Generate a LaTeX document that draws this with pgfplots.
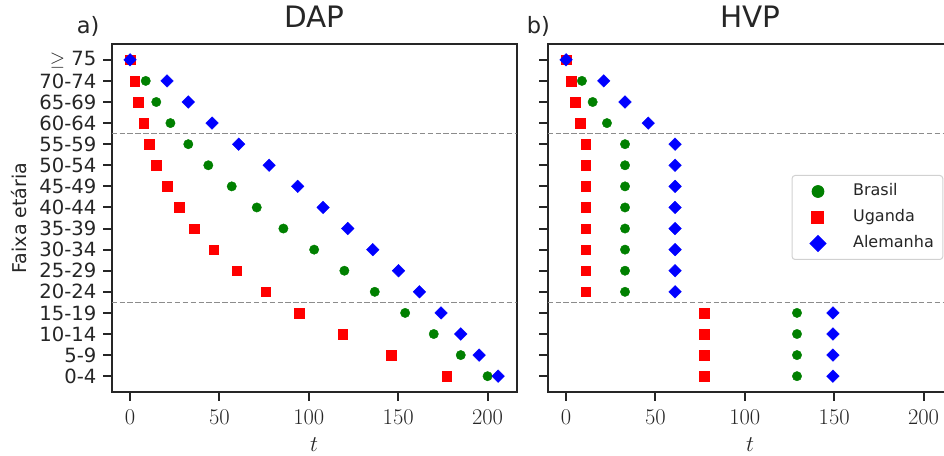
\RequirePackage{fix-cm}
\documentclass[border=0pt]{standalone}
\usepackage{fontspec}
\setmainfont{DejaVu Sans}
\usepackage{pgfplots}
\pgfplotsset{compat=1.18}
\usepackage{pgfplotstable}

\definecolor{spine}{gray}{0.15}
\definecolor{mgreen}{RGB}{0,128,0}
\definecolor{mred}{RGB}{255,0,0}
\definecolor{mblue}{RGB}{0,0,255}
\definecolor{dashgrey}{gray}{0.55}
\definecolor{legedge}{gray}{0.82}

% rows: 0 = 0-4, ..., 14 = 70-74, 15 = >=75
\pgfplotstableread{
row bra uga ale
0  200.0 177.2 205.9
1  185.0 146.1 195.3
2  169.9 119.0 185.0
3  153.9  94.8 174.0
4  136.9  75.9 161.9
5  119.9  59.7 150.2
6  103.0  46.8 135.8
7   85.8  35.8 121.8
8   70.9  27.6 108.0
9   56.9  20.7  93.8
10  43.8  14.5  77.8
11  32.6  10.6  60.8
12  22.6   7.6  45.9
13  14.7   4.7  32.6
14   8.8   2.6  20.7
15   0.0   0.0   0.0
}\dap

\pgfplotstableread{
row bra uga ale
0  129.2 77.2 149.3
1  129.2 77.2 149.3
2  129.2 77.2 149.3
3  129.2 77.2 149.3
4   33.0 11.0  61.0
5   33.0 11.0  61.0
6   33.0 11.0  61.0
7   33.0 11.0  61.0
8   33.0 11.0  61.0
9   33.0 11.0  61.0
10  33.0 11.0  61.0
11  33.0 11.0  61.0
12  22.9  7.8  46.0
13  14.9  5.0  33.0
14   8.9  2.8  21.1
15   0.0  0.0   0.0
}\hvp

\pgfplotsset{
  panel/.style={
    scale only axis, width=405.1pt, height=348pt,
    xmin=-10.3, xmax=216.3, ymin=-0.75, ymax=15.75,
    xtick={0,50,100,150,200}, ytick={0,...,15},
    minor tick num=0,
    tick align=outside, xtick pos=bottom, ytick pos=left,
    major tick length=8.5pt,
    tick style={line width=2pt, spine},
    axis line style={line width=2pt, spine},
    clip mode=individual,
    xticklabel style={font=\fontsize{22.5}{26}\selectfont, text=spine, anchor=north, inner sep=0pt, yshift=-9.5pt},
    yticklabel style={font=\fontsize{19.6}{23}\selectfont, text=spine, anchor=east, inner sep=0pt, xshift=-6.5pt},
    xlabel={$t$},
    every axis x label/.style={at={(rel axis cs:0.5,0)}, anchor=base, yshift=-59pt, inner sep=0pt, font=\fontsize{22.5}{26}\selectfont, text=spine},
    title style={at={(rel axis cs:0.5,1)}, anchor=base, yshift=10.7pt, inner sep=0pt, font=\fontsize{29.5}{34}\selectfont, text=spine},
  },
  bra/.style={only marks, mark=*, mark size=4.7pt, color=mgreen, mark options={draw=none, fill=mgreen}},
  uga/.style={only marks, mark=square*, mark size=4.8pt, color=mred, mark options={draw=none, fill=mred}},
  ale/.style={only marks, mark=square*, mark size=4.45pt, color=mblue, mark options={draw=none, fill=mblue, rotate=45}},
  sep/.style={dashgrey, line width=1.5pt, dash pattern=on 5.5pt off 2.4pt, forget plot, mark=none},
}

\begin{document}
\begin{tikzpicture}
\useasboundingbox (0pt,0pt) rectangle (944pt,455pt);
\clip (0pt,0pt) rectangle (944pt,455pt);

% ---------- a) DAP ----------
\begin{axis}[panel,
  at={(111.6pt,63pt)}, anchor=south west,
  title={DAP},
  yticklabels={0-4,5-9,10-14,15-19,20-24,25-29,30-34,35-39,40-44,45-49,50-54,55-59,60-64,65-69,70-74,{$\geq$ 75}},
  ylabel={Faixa etária},
  every axis y label/.style={at={([xshift=-84.6pt]rel axis cs:0,0.5)}, rotate=90, anchor=south, inner sep=0pt, font=\fontsize{19}{23}\selectfont, text=spine},
]
\addplot[sep] coordinates {(-10.3,11.5) (216.3,11.5)};
\addplot[sep] coordinates {(-10.3,3.5) (216.3,3.5)};
\addplot[bra] table[x=bra, y=row] {\dap};
\addplot[uga] table[x=uga, y=row] {\dap};
\addplot[ale] table[x=ale, y=row] {\dap};
\node[anchor=base west, inner sep=0pt, font=\fontsize{22.5}{26}\selectfont, text=spine, xshift=-34.9pt, yshift=10.7pt] at (rel axis cs:0,1) {a)};
\end{axis}

% ---------- b) HVP ----------
\begin{axis}[panel,
  at={(547.6pt,63pt)}, anchor=south west,
  title={HVP},
  yticklabels={},
  legend style={at={(rel axis cs:1,0.6236)}, anchor=north east, xshift=-9.4pt,
    draw=legedge, line width=1pt, rounded corners=3pt, fill=white,
    inner xsep=9pt, inner ysep=8pt, row sep=10pt,
    font=\fontsize{16}{19}\selectfont, text=spine,
    nodes={inner sep=0pt, text height=12pt, text depth=4pt},
    cells={anchor=west}},
  legend image code/.code={%
    \draw[#1, every mark/.append style={scale=1.25, sharp corners}] plot coordinates {(0pt,0pt)};
    \path (-16.4pt,0pt) (34.6pt,0pt);},
]
\addplot[sep] coordinates {(-10.3,11.5) (216.3,11.5)};
\addplot[sep] coordinates {(-10.3,3.5) (216.3,3.5)};
\addplot[bra] table[x=bra, y=row] {\hvp};
\addlegendentry{Brasil}
\addplot[uga] table[x=uga, y=row] {\hvp};
\addlegendentry{Uganda}
\addplot[ale] table[x=ale, y=row] {\hvp};
\addlegendentry{Alemanha}
\node[anchor=base west, inner sep=0pt, font=\fontsize{22.5}{26}\selectfont, text=spine, xshift=-20.9pt, yshift=10.7pt] at (rel axis cs:0,1) {b)};
\end{axis}
\end{tikzpicture}
\end{document}
